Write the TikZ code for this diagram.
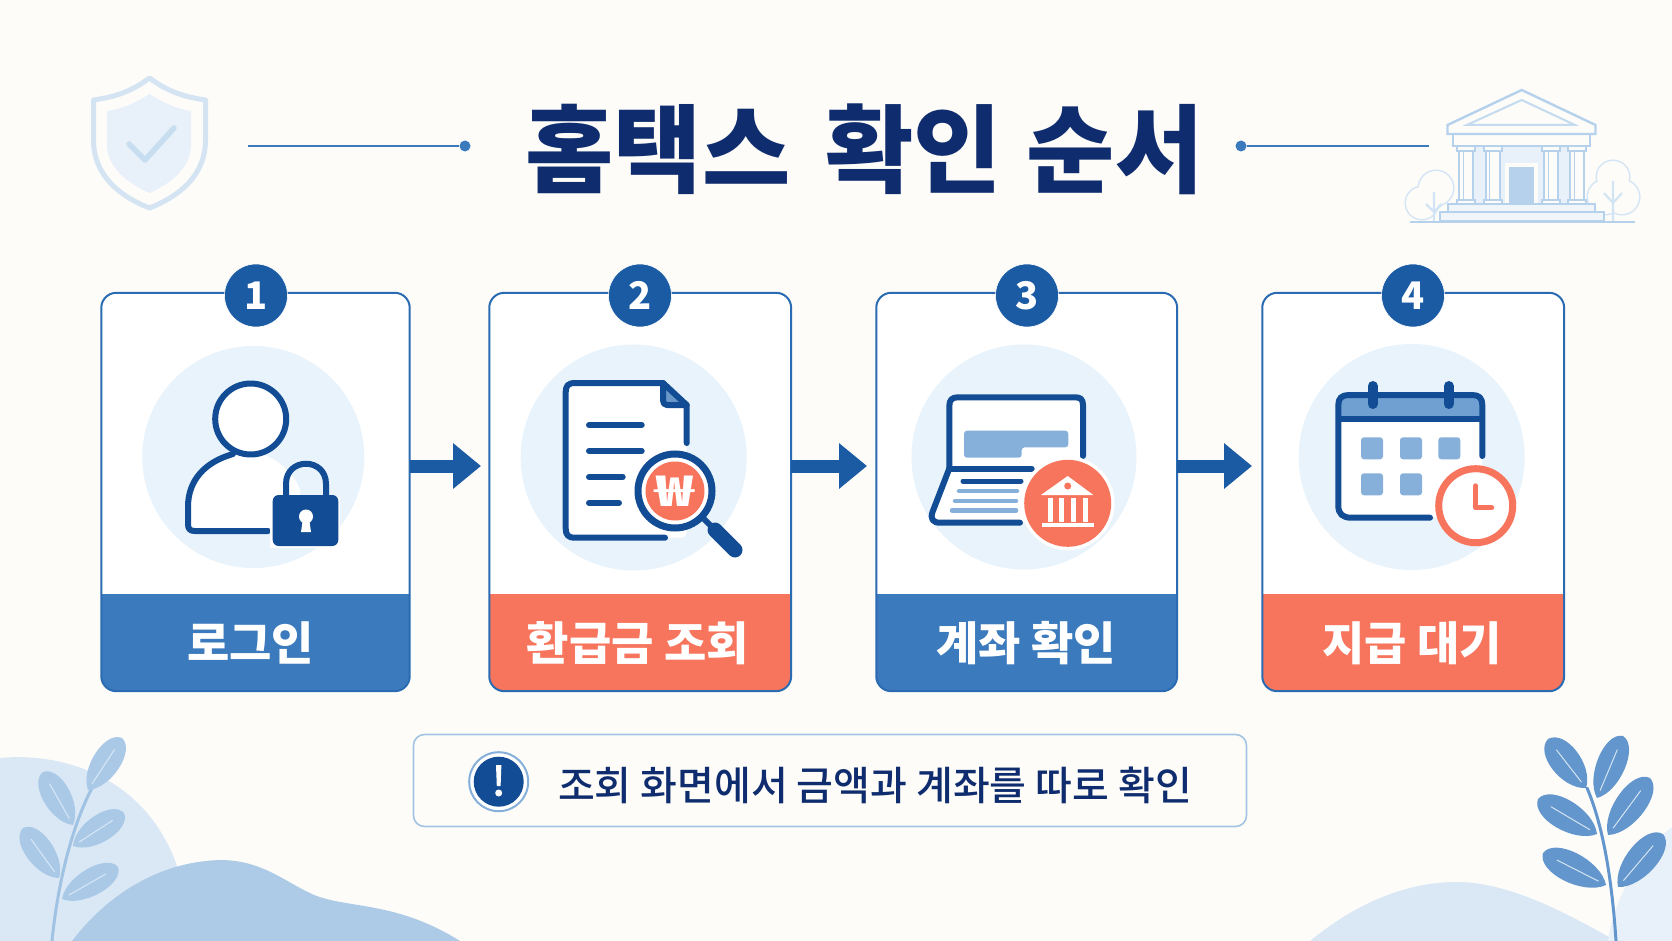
\documentclass[tikz,border=0pt]{standalone}
\usepackage{fontspec}
\usetikzlibrary{arrows.meta,calc}
\newfontfamily\krfont{Noto Sans CJK KR}
\newfontfamily\krmed{Noto Sans CJK KR Medium}
\newfontfamily\krblack{Noto Sans CJK KR Black}
\definecolor{paper}{HTML}{FDFCF9}
\definecolor{navy}{HTML}{124C94}
\definecolor{ink}{HTML}{0F2D6E}
\definecolor{edge}{HTML}{2A6BB2}
\definecolor{badgeblue}{HTML}{1B5BA3}
\definecolor{bandblue}{HTML}{3B7ABC}
\definecolor{coral}{HTML}{F7745D}
\definecolor{halo}{HTML}{E8F3FB}
\definecolor{midblue}{HTML}{86B0DA}
\definecolor{blobpale}{HTML}{DAE8F5}
\definecolor{blobmid}{HTML}{ADCBE6}
\definecolor{leafpale}{HTML}{A9C9E7}
\definecolor{leafstem}{HTML}{A0C2E3}
\definecolor{leafdeep}{HTML}{6296CC}
\definecolor{ghost}{HTML}{D5E4F3}
\definecolor{ghostfill}{HTML}{E8F1F9}
\definecolor{bankline}{HTML}{B5D1EB}
\definecolor{treeline}{HTML}{D3E5F4}
\tikzset{
  cardbox/.style={draw=none,fill=white,rounded corners=15pt,minimum width=#1,minimum height=398pt,inner sep=0pt},
  cardedge/.style={draw=edge,line width=2pt,rounded corners=15pt},
  badge/.style={circle,fill=badgeblue,draw=white,line width=0.6pt,minimum size=63pt,inner sep=0pt,text=white,font=\krfont\bfseries\fontsize{38pt}{38pt}\selectfont},
  backdisc/.style={fill=halo},
  bandtext/.style={text=white,inner sep=0pt,font=\krfont\bfseries\fontsize{46pt}{46pt}\selectfont},
  flow/.style={draw=badgeblue,line width=13pt,-{Triangle[length=28pt,width=44pt]}},
  iconline/.style={draw=navy,line width=6pt,line cap=round,line join=round},
  barline/.style={line width=6pt,line cap=round},
  bankpart/.style={draw=bankline,line width=2pt,fill=paper,line join=miter},
}
% a leaf drawn between its base and its tip, with a thin central vein
\newcommand{\leafshape}[5]{%
  \coordinate (la) at (#1); \coordinate (lb) at (#2);
  \fill[#4] (la) .. controls ($(la)!.22!(lb)!#3!90:(lb)$) and ($(la)!.95!(lb)!#3!90:(lb)$) .. (lb)
     .. controls ($(lb)!.05!(la)!#3!90:(la)$) and ($(lb)!.78!(la)!#3!90:(la)$) .. (la) -- cycle;
  \draw[#5,line width=1pt] ($(la)!.12!(lb)$) -- ($(la)!.78!(lb)$);
}
\begin{document}
\begin{tikzpicture}[x=1pt,y=-1pt]
\useasboundingbox (0,0) rectangle (1672,941);
\fill[paper] (0,0) rectangle (1672,941);

% ---- lower left scenery
\fill[blobpale] (0,758) .. controls (60,752) and (150,775) .. (180,875) -- (195,941) -- (0,941) -- cycle;
\fill[blobmid] (72,941) .. controls (105,898) and (155,862) .. (220,860)
   .. controls (262,860) and (285,882) .. (312,894)
   .. controls (345,909) and (395,900) .. (460,941) -- cycle;
\draw[leafstem,line width=3pt,line cap=round] (52,941) .. controls (57,890) and (70,830) .. (92,788);
\leafshape{88,790}{122,738}{18.5pt}{leafpale}{blobpale}
\leafshape{73,825}{43,772}{18.5pt}{leafpale}{blobpale}
\leafshape{73,846}{124,813}{18pt}{leafpale}{blobpale}
\leafshape{59,878}{23,828}{18.5pt}{leafpale}{blobpale}
\leafshape{62,899}{118,867}{18pt}{leafpale}{blobpale}

% ---- lower right scenery
\fill[blobpale] (1310,941) .. controls (1360,900) and (1410,882) .. (1457,882)
   .. controls (1510,882) and (1570,915) .. (1616,941) -- cycle;
\fill[ghostfill] (1608,941) .. controls (1612,905) and (1640,850) .. (1672,827) -- (1672,941) -- cycle;
\draw[leafdeep,line width=3pt,line cap=round] (1616,941) .. controls (1612,880) and (1603,825) .. (1587,788);
\leafshape{1586,788}{1548,739}{20pt}{leafdeep}{ghost}
\leafshape{1597,798}{1623,736}{19pt}{leafdeep}{ghost}
\leafshape{1597,834}{1538,799}{20pt}{leafdeep}{ghost}
\leafshape{1608,835}{1650,778}{20pt}{leafdeep}{ghost}
\leafshape{1606,885}{1543,853}{20pt}{leafdeep}{ghost}
\leafshape{1618,887}{1663,834}{20pt}{leafdeep}{ghost}

% ---- shield
\draw[ghost,line width=5pt,line join=round,fill=paper] (149.5,78) .. controls (168,92) and (185,97) .. (205.5,100)
   -- (205.5,140) .. controls (205.5,175) and (180,196) .. (149.5,208)
   .. controls (119,196) and (93.5,175) .. (93.5,140) -- (93.5,100)
   .. controls (114,97) and (131,92) .. (149.5,78) -- cycle;
\fill[ghostfill] (149.5,94) .. controls (165,104) and (178,109) .. (191,111)
   -- (191,145) .. controls (191,168) and (170,184) .. (149.5,193)
   .. controls (129,184) and (107,168) .. (107,145) -- (107,111)
   .. controls (121,109) and (134,104) .. (149.5,94) -- cycle;
\draw[bankline!75!white,line width=5.5pt,line cap=round,line join=round] (129,144) -- (145,160) -- (174,128);

% ---- bank with two trees
\foreach \tx/\ty/\tr in {1422/203/16,1436/188/17,1613/177/16,1605/197/17,1622/197/17}
  \draw[treeline,line width=3pt] (\tx,\ty) circle[radius=\tr pt];
\foreach \tx/\ty/\tr in {1422/203/16,1436/188/17,1613/177/16,1605/197/17,1622/197/17}
  \fill[paper] (\tx,\ty) circle[radius=\tr pt];
\draw[treeline,line width=2.2pt] (1434,192) -- (1434,221) (1426,204) -- (1434,212) -- (1442,204)
   (1613,181) -- (1613,221) (1604,193) -- (1613,203) -- (1622,193);
\fill[ghostfill] (1471,146) rectangle (1572,205);
\fill[paper] (1505,163) rectangle (1538,205);
\fill[bankline] (1509,167) rectangle (1534,206);
\foreach \cx in {1466,1492.5,1551,1577}{
  \draw[bankpart] (\cx-7,151) rectangle (\cx+7,200);
  \draw[bankline,line width=1pt] (\cx-3,152) -- (\cx-3,199);
  \draw[bankpart] (\cx-9,146.5) rectangle (\cx+9,151.5);
  \draw[bankpart] (\cx-9,200) rectangle (\cx+9,204.5);
}
\draw[bankpart] (1453,134) rectangle (1590,146);
\draw[bankpart,line width=2.4pt] (1521.7,90) -- (1595.5,125) -- (1595.5,134) -- (1447.5,134) -- (1447.5,125) -- cycle;
\draw[bankline!80!white,line width=2pt,line join=miter] (1521.7,100) -- (1575,125) -- (1466.7,125) -- cycle;
\draw[bankpart,fill=ghostfill!60!paper] (1448,204.5) rectangle (1595,212.5);
\draw[bankpart,fill=ghostfill!60!paper] (1439.5,212.5) rectangle (1604,221);
\draw[bankline,line width=2pt] (1410,222) -- (1635,222);

% ---- heading rules and title
\coordinate (ruleLa) at (248,146);
\coordinate (ruleRb) at (1429,146);
\node[circle,fill=bandblue,minimum size=11pt,inner sep=0pt] (dotL) at (465,146) {};
\node[circle,fill=bandblue,minimum size=11pt,inner sep=0pt] (dotR) at (1241,146) {};
\draw[bandblue,line width=1.8pt] (ruleLa) -- (dotL);
\draw[bandblue,line width=1.8pt] (dotR) -- (ruleRb);
\node[inner sep=0pt,text=ink,font=\krblack\fontsize{96pt}{96pt}\selectfont] (title) at (864.5,149) {홈택스\hspace{13pt} 확인\hspace{3pt} 순서};

% ---- the four cards
\node[cardbox=308pt] (c1) at (255.5,492) {};
\node[cardbox=301.5pt] (c2) at (640.2,492) {};
\node[cardbox=300.5pt] (c3) at (1026.7,492) {};
\node[cardbox=301.5pt] (c4) at (1413.2,492) {};
\foreach \nm/\col in {c1/bandblue,c2/coral,c3/bandblue,c4/coral}{
  \fill[\col] (\nm.west |- 0,594) -- (\nm.east |- 0,594) [rounded corners=15pt] -- (\nm.south east) -- (\nm.south west) [sharp corners] -- cycle;
  \draw[cardedge] (\nm.north west) rectangle (\nm.south east);
}
\node[bandtext] (t1) at (250.5,643) {로그인};
\node[bandtext] (t2) at (638,643) {환급금 조회};
\node[bandtext] (t3) at (1026,643) {계좌 확인};
\node[bandtext] (t4) at (1412,643) {지급 대기};
\node[badge] (b1) at (256,295.5) {1};
\node[badge] (b2) at (640,295.5) {2};
\node[badge] (b3) at (1027,295.5) {3};
\node[badge] (b4) at (1413,295.5) {4};

% ---- connectors between cards
\coordinate (a1s) at (409.5,466); \coordinate (a1e) at (481,466);
\coordinate (a2s) at (791,466);   \coordinate (a2e) at (867,466);
\coordinate (a3s) at (1177,466);  \coordinate (a3e) at (1252,466);
\draw[flow] (a1s) -- (a1e);
\draw[flow] (a2s) -- (a2e);
\draw[flow] (a3s) -- (a3e);

% ---- card 1: person with padlock
\fill[backdisc] (253.3,457) circle[radius=111pt];
\fill[white] (250.7,419) circle[radius=36pt];
\fill[white] (233,454) .. controls (205,462) and (188,480) .. (188,507) -- (188,531) -- (300,531) -- (300,490) .. controls (295,475) and (280,460) .. (262,454) -- cycle;
\draw[iconline] (233,454) .. controls (205,462) and (188,480) .. (188,507) -- (188,524)
   .. controls (188,529) and (190,531) .. (195,531) -- (268,531);
\draw[iconline] (250.7,419) circle[radius=35.5pt];
\fill[white] (270,497) rectangle (340,548);
\draw[navy,line width=6pt] (286,497) -- (286,484) .. controls (286,457) and (326,457) .. (326,484) -- (326,497);
\fill[navy,rounded corners=6pt] (272.7,495) rectangle (338.3,546);
\fill[white] (306,516.5) circle[radius=7pt];
\fill[white] (303,518) -- (309,518) -- (311,532) -- (301,532) -- cycle;

% ---- card 2: document under a magnifier
\fill[backdisc] (633.7,457.5) circle[radius=113pt];
\fill[white,rounded corners=6pt] (565.7,383) -- (663,383) -- (686.7,405) -- (686.7,537.7) -- (565.7,537.7) -- cycle;
\fill[midblue!75!navy] (663,383) -- (686.7,405) -- (663,405) -- cycle;
\draw[iconline] (686.7,443) -- (686.7,405) -- (663,383) -- (575,383) .. controls (568,383) and (565.7,386) .. (565.7,392)
   -- (565.7,528) .. controls (565.7,535) and (568,537.7) .. (575,537.7) -- (665,537.7);
\draw[iconline] (663,383) -- (663,400) .. controls (663,403) and (664,405) .. (667,405) -- (686.7,405);
\foreach \ly/\lx in {425/641.7,451/641.7,477/622.7,503/619}
  \draw[navy,barline] (589,\ly) -- (\lx,\ly);
\draw[navy,line width=6pt] (703,518) -- (713,528);
\draw[navy,line width=15pt,line cap=round] (715,530) -- (735,550);
\fill[white] (675,491) circle[radius=40pt];
\draw[navy,line width=7pt] (675,491) circle[radius=37pt];
\fill[coral] (675,491) circle[radius=29.5pt];
\node[inner sep=0pt,text=white,font=\krblack\fontsize{42pt}{42pt}\selectfont] (won) at (675,491) {\scalebox{1.5}[1]{₩}};

% ---- card 3: laptop with bank seal
\fill[backdisc] (1024,457) circle[radius=112.5pt];
\fill[white] (949.3,397.3) rectangle (1083,468);
\fill[white] (949.3,468) -- (1085,468) -- (1085,522.7) -- (931.7,522.7) -- cycle;
\draw[iconline] (1083,456) -- (1083,405) .. controls (1083,399) and (1080,397.3) .. (1075,397.3) -- (958,397.3)
   .. controls (952,397.3) and (949.3,400) .. (949.3,406) -- (949.3,468);
\draw[iconline] (949.3,468.5) -- (1031.7,468.5);
\draw[iconline] (949.3,468.5) -- (932.5,512) .. controls (930,519) and (933,522.7) .. (940,522.7) -- (1020,522.7);
\fill[midblue,rounded corners=3pt] (964,430.7) -- (1068.3,430.7) -- (1068.3,447.3) -- (1021.7,447.3) -- (1021.7,457.7) -- (964,457.7) -- cycle;
\draw[navy,line width=5pt,line cap=round] (963,481) -- (1021,481);
\draw[midblue,line width=4.5pt,line cap=round] (959,491) -- (1017,491);
\draw[midblue,line width=4.5pt,line cap=round] (955,501) -- (1016,501);
\draw[midblue,line width=4.5pt,line cap=round] (952,510.5) -- (1016,510.5);
\fill[white] (1067.7,503.3) circle[radius=47pt];
\fill[coral] (1067.7,503.3) circle[radius=43.5pt];
\fill[white] (1067.7,476) -- (1093.3,495) -- (1041,495) -- cycle;
\fill[coral] (1067.7,486) circle[radius=3.5pt];
\foreach \px in {1050,1061.7,1073.3,1085.7}
  \fill[white] (\px-2.5,497.5) rectangle (\px+2.5,522);
\fill[white] (1041.5,522.7) rectangle (1093.5,527.3);

% ---- card 4: calendar with clock
\fill[backdisc] (1411.7,457) circle[radius=113pt];
\fill[white,rounded corners=10pt] (1338.3,395) rectangle (1482.3,517.7);
\fill[midblue!70!bandblue,rounded corners=10pt] (1338.3,395) -- (1482.3,395) -- (1482.3,419.3) [sharp corners] -- (1338.3,419.3) -- cycle;
\fill[midblue!70!bandblue] (1338.3,408) rectangle (1482.3,419.3);
\draw[iconline] (1482.3,456) -- (1482.3,405) .. controls (1482.3,398) and (1479,395) .. (1472,395) -- (1349,395)
   .. controls (1342,395) and (1338.3,398) .. (1338.3,405) -- (1338.3,506)
   .. controls (1338.3,514) and (1343,517.7) .. (1351,517.7) -- (1430,517.7);
\draw[navy,line width=6pt] (1338.3,419.3) -- (1482.3,419.3);
\draw[navy,line width=10pt,line cap=round] (1372.7,386) -- (1372.7,404);
\draw[navy,line width=10pt,line cap=round] (1448.7,386) -- (1448.7,404);
\foreach \qx/\qy in {1361/437.3,1400/437.3,1438.3/437.3,1361/473.3,1400/473.3}
  \fill[midblue,rounded corners=3pt] (\qx,\qy) rectangle (\qx+22,\qy+22);
\fill[white] (1475.7,505.7) circle[radius=40.5pt];
\draw[coral,line width=7pt] (1475.7,505.7) circle[radius=37pt];
\draw[coral,line width=5.5pt,line cap=round,line join=round] (1475.7,486) -- (1475.7,507.7) -- (1491.5,507.7);

% ---- reminder strip
\node[draw=midblue!75!white,line width=1.6pt,fill=paper,rounded corners=11pt,minimum width=833pt,minimum height=92pt,inner sep=0pt] (note) at (830,780.5) {};
\node[circle,draw=midblue,line width=2pt,fill=white,minimum size=59pt,inner sep=0pt] (warnring) at (498.7,781.7) {};
\node[circle,fill=navy,minimum size=50pt,inner sep=0pt] (warn) at (498.7,781.7) {};
\fill[white] (496,765) -- (501.4,765) -- (500.6,786) -- (496.8,786) -- cycle;
\fill[white] (498.7,793) circle[radius=3.5pt];
\node[inner sep=0pt,text=ink,font=\krmed\fontsize{40pt}{40pt}\selectfont] (notetext) at (875,785) {조회 화면에서 금액과 계좌를 따로 확인};
\end{tikzpicture}
\end{document}
